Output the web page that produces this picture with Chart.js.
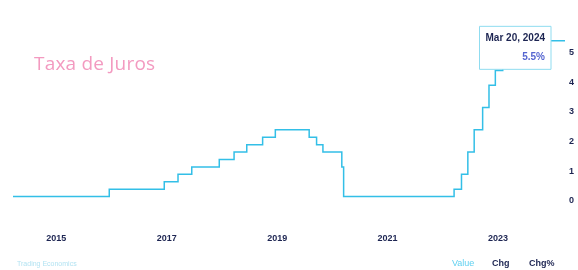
<!DOCTYPE html>
<html>
<head>
<meta charset="utf-8">
<script src="https://cdn.jsdelivr.net/npm/chart.js@4.4.1/dist/chart.umd.min.js"></script>
<style>
  html, body { margin: 0; padding: 0; background: #ffffff; }
  #wrap { position: relative; width: 578px; height: 270px; overflow: hidden; }
  #c { position: absolute; left: 0; top: 0; }
  .txt { position: absolute; white-space: nowrap; font-family: "Liberation Sans", Arial, sans-serif; }
  #title { left: 34px; top: 50px; font-family: "Open Sans", sans-serif; font-size: 19px; color: #f39ac0; letter-spacing: 0.2px; }
  #src { left: 17px; top: 260px; font-size: 7px; color: #b3e3f2; }
  .tab { top: 258px; font-size: 9px; font-weight: bold; color: #1d2552; }
  #tv { left: 452px; color: #5fd0f0; font-weight: normal; }
  #tc { left: 492px; }
  #tp { left: 529px; }
</style>
</head>
<body>
<div id="wrap">
  <canvas id="c" width="578" height="270"></canvas>
  <div id="title" class="txt">Taxa de Juros</div>
  <div id="src" class="txt">Trading Economics</div>
  <div id="tv" class="txt tab">Value</div>
  <div id="tc" class="txt tab">Chg</div>
  <div id="tp" class="txt tab">Chg%</div>
</div>
<script>
// Fed funds rate (upper bound), change dates
const dates = [
  "2014-03-20", "2015-12-17", "2016-12-15", "2017-03-16", "2017-06-15",
  "2017-12-14", "2018-03-22", "2018-06-14", "2018-09-27", "2018-12-20",
  "2019-08-01", "2019-09-19", "2019-10-31", "2020-03-04", "2020-03-16",
  "2022-03-17", "2022-05-05", "2022-06-16", "2022-07-28", "2022-09-22",
  "2022-11-03", "2022-12-15", "2023-02-02", "2023-03-23", "2023-05-04",
  "2023-07-27", "2024-03-20"
];
const rates = [
  0.25, 0.5, 0.75, 1.0, 1.25,
  1.5, 1.75, 2.0, 2.25, 2.5,
  2.25, 2.0, 1.75, 1.25, 0.25,
  0.5, 1.0, 1.75, 2.5, 3.25,
  4.0, 4.5, 4.75, 5.0, 5.25,
  5.5, 5.5
];
const tickYears = [2015, 2017, 2019, 2021, 2023];
const yTicks = [0, 1, 2, 3, 4, 5];
const monthNames = ["Jan","Feb","Mar","Apr","May","Jun","Jul","Aug","Sep","Oct","Nov","Dec"];

const toTs = s => Date.parse(s + "T00:00:00Z");
const points = dates.map((d, i) => ({ x: toTs(d), y: rates[i] }));

function fmtDate(ts) {
  const d = new Date(ts);
  return monthNames[d.getUTCMonth()] + " " + d.getUTCDate() + ", " + d.getUTCFullYear();
}

Chart.Tooltip.positioners.besideLeft = function (items) {
  if (!items.length) return false;
  const el = items[0].element;
  return { x: el.x, y: el.y + 7 };
};

const navy = "#1d2552";

const chart = new Chart(document.getElementById("c"), {
  type: "line",
  data: {
    datasets: [{
      data: points,
      stepped: "before",
      borderColor: "#33bfe7",
      borderWidth: 1.5,
      pointRadius: 0,
      pointHoverRadius: 0,
      fill: false
    }]
  },
  options: {
    responsive: false,
    animation: false,
    events: [],
    layout: { padding: { left: 13, top: 26, right: 0, bottom: 0 } },
    scales: {
      x: {
        type: "linear",
        min: toTs(dates[0]),
        max: toTs(dates[dates.length - 1]),
        grid: { display: false, drawTicks: false },
        border: { display: false },
        afterBuildTicks: s => { s.ticks = tickYears.map(y => ({ value: Date.UTC(y, 0, 1) })); },
        afterFit: s => { s.height = 66; },
        ticks: {
          padding: 29,
          maxRotation: 0,
          autoSkip: false,
          color: navy,
          font: { family: "'Liberation Sans', Arial, sans-serif", size: 9, weight: "bold" },
          callback: v => String(new Date(v).getUTCFullYear())
        }
      },
      y: {
        position: "right",
        min: 0,
        max: 6,
        grid: { display: false, drawTicks: false },
        border: { display: false },
        afterBuildTicks: s => { s.ticks = yTicks.map(v => ({ value: v })); },
        afterFit: s => { s.width = 13; },
        ticks: {
          padding: 4,
          labelOffset: -3,
          color: navy,
          font: { family: "'Liberation Sans', Arial, sans-serif", size: 9, weight: "bold" },
          callback: v => String(v)
        }
      }
    },
    plugins: {
      legend: { display: false },
      title: { display: false },
      tooltip: {
        enabled: true,
        position: "besideLeft",
        xAlign: "right",
        yAlign: "center",
        caretSize: 0,
        caretPadding: 14,
        cornerRadius: 0,
        backgroundColor: "#ffffff",
        borderColor: "#8fdcf0",
        borderWidth: 1,
        displayColors: false,
        padding: { left: 6, right: 6, top: 6, bottom: 6 },
        titleMarginBottom: 7,
        titleColor: navy,
        titleFont: { family: "'Liberation Sans', Arial, sans-serif", size: 10, weight: "bold" },
        bodyColor: "#5565d0",
        bodyFont: { family: "'Liberation Sans', Arial, sans-serif", size: 10, weight: "bold" },
        bodyAlign: "right",
        callbacks: {
          title: items => fmtDate(items[0].parsed.x),
          label: item => item.parsed.y + "%"
        }
      }
    }
  }
});

const last = points.length - 1;
const meta = chart.getDatasetMeta(0);
const el = meta.data[last];
chart.tooltip.setActiveElements([{ datasetIndex: 0, index: last }], { x: el.x, y: el.y });
chart.update();
</script>
</body>
</html>
